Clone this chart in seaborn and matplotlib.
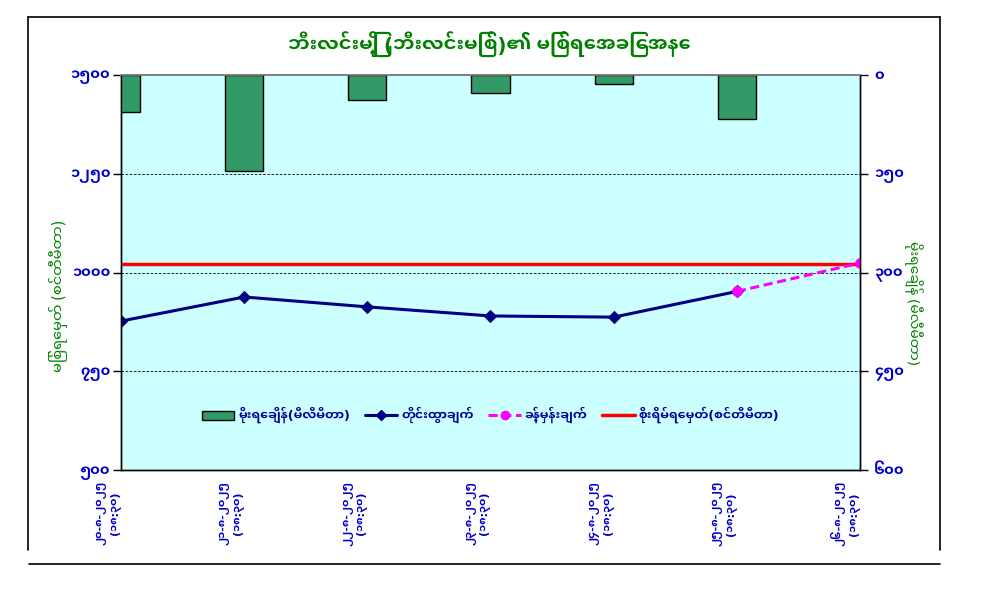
import numpy as np
import matplotlib
matplotlib.use('Agg')
import matplotlib.pyplot as plt
from matplotlib import font_manager
from matplotlib.ft2font import FT2Font
from matplotlib.patches import Patch
from matplotlib.lines import Line2D
import seaborn as sns

# data
dates = ['၂၀-၈-၂၀၂၅', '၂၁-၈-၂၀၂၅', '၂၂-၈-၂၀၂၅', '၂၃-၈-၂၀၂၅',
         '၂၄-၈-၂၀၂၅', '၂၅-၈-၂၀၂၅', '၂၆-၈-၂၀၂၅']
time_label = '(၁၈:၃၀)'
rainfall = [56, 146, 38, 28, 14, 67]          # mm, right axis (inverted)
observed = [877, 938, 913, 890, 887, 952]     # cm, left axis
forecast = 1024                               # cm, last day
danger_level = 1021                           # cm

left_ticks = [500, 750, 1000, 1250, 1500]
right_ticks = [0, 150, 300, 450, 600]

title = 'ဘီးလင်းမြို့ (ဘီးလင်းမြစ်)၏ မြစ်ရေအခြေအနေ'
ylabel_left = 'မြစ်ရေမှတ် (စင်တီမီတာ)'
ylabel_right = 'မိုးရေချိန် (မီလီမီတာ)'
legend_labels = ['မိုးရေချိန်(မီလီမီတာ)', 'တိုင်းထွာချက်', 'ခန့်မှန်းချက်',
                 'စိုးရိမ်ရေမှတ်(စင်တီမီတာ)']


def find_myanmar_font():
    # collect every family that has Myanmar letters and digits
    fams = {}
    for f in font_manager.fontManager.ttflist:
        try:
            ft = FT2Font(f.fname)
            cmap = ft.get_charmap()
        except Exception:
            continue
        if 0x1000 not in cmap or 0x1041 not in cmap:
            continue
        try:
            ft.set_size(10, 72)
            ft.load_char(0x1040)
            adv = ft.get_width_height()[0]
        except Exception:
            adv = 999
        info = fams.setdefault(f.name, {'bold': False, 'adv': adv})
        w = f.weight if isinstance(f.weight, int) else 700 if 'bold' in str(f.weight) else 400
        if w >= 600:
            info['bold'] = True
        info['adv'] = min(info['adv'], adv)
    if not fams:
        return None, False
    name = sorted(fams, key=lambda n: (not fams[n]['bold'], fams[n]['adv']))[0]
    return name, fams[name]['bold']


def mm_digits(n):
    return str(int(n)).translate(str.maketrans('0123456789', '၀၁၂၃၄၅၆၇၈၉'))


sns.set_style('white')
mm_font, has_bold = find_myanmar_font()
families = [mm_font, 'DejaVu Sans'] if mm_font else ['DejaVu Sans']
plt.rcParams['font.family'] = families
wt = 'bold' if has_bold else 'normal'

green = '#008000'
blue = '#0000CC'

fig = plt.figure(figsize=(9.84, 6.05), dpi=100)
ax = fig.add_axes([121 / 984, 1 - 470 / 605, (860 - 121) / 984, (470 - 75) / 605])
ax.set_facecolor('#CCFFFF')
ax2 = ax.twinx()

pos = np.arange(len(dates))

# rainfall bars on the inverted secondary axis
sns.barplot(x=pos[:len(rainfall)], y=rainfall, native_scale=True, width=0.31,
            color='#339966', saturation=1, edgecolor='black', linewidth=1,
            ax=ax2, zorder=2)

# observed water level and forecast
sns.lineplot(x=pos[:len(observed)], y=observed, color='#000080', lw=2.2,
             marker='D', markersize=6, markeredgecolor='#000080', ax=ax, zorder=4)
sns.lineplot(x=pos[len(observed) - 1:], y=[observed[-1], forecast], color='#FF00FF',
             lw=2.2, marker='o', markersize=7, markeredgecolor='#FF00FF', ax=ax, zorder=4)
ax.lines[-1].set_linestyle((0, (3, 1.5)))
ax.axhline(danger_level, color='#FF0000', lw=2.5, zorder=3)

ax.set_xlim(0, len(dates) - 1)
ax.set_ylim(left_ticks[0], left_ticks[-1])
ax2.set_ylim(right_ticks[-1], right_ticks[0])
ax.set_yticks(left_ticks)
ax2.set_yticks(right_ticks)
ax.set_yticklabels([mm_digits(v) for v in left_ticks], color=blue,
                   fontsize=10.5, fontweight=wt)
ax2.set_yticklabels([mm_digits(v) for v in right_ticks], color=blue,
                    fontsize=10.5, fontweight=wt)
ax.set_xticks(pos)
ax.set_xticklabels([d + '\n' + time_label for d in dates], rotation=90,
                   color=blue, fontsize=8, fontweight=wt, va='top', ha='right',
                   multialignment='center', linespacing=1.4)
ax.set_xlabel('')
ax2.set_xlabel('')
ax.set_ylabel('')
ax2.set_ylabel('')

ax.yaxis.grid(True, linestyle=(0, (3, 2)), color='black', lw=0.6)
ax.xaxis.grid(False)
ax2.grid(False)
for a in (ax, ax2):
    a.tick_params(axis='both', direction='out', length=6, width=1, color='black',
                  pad=4)
    for side in ('left', 'right', 'bottom'):
        a.spines[side].set_color('black')
        a.spines[side].set_linewidth(1)
    a.spines['top'].set_color('#808080')
    a.spines['top'].set_linewidth(1.2)
ax.tick_params(axis='y', pad=1.5)
ax.tick_params(axis='x', length=5, pad=3)

handles = [
    Patch(facecolor='#339966', edgecolor='black', lw=1),
    Line2D([], [], color='#000080', lw=2.2, marker='D', markersize=5),
    Line2D([], [], color='#FF00FF', lw=2.2, ls=(0, (3, 1.5)), marker='o', markersize=6),
    Line2D([], [], color='#FF0000', lw=2.5),
]
leg = ax2.legend(handles, legend_labels, loc='center', bbox_to_anchor=(0.5, 0.14),
                 ncol=4, frameon=False, handlelength=2.6, columnspacing=1.2,
                 handletextpad=0.3, prop={'weight': wt, 'size': 9})
for t in leg.get_texts():
    t.set_color('#000099')

fig.text(0.497, 1 - 45 / 605, title, ha='center', va='center', color=green,
         fontsize=14, fontweight=wt)
fig.text(58 / 984, 1 - 296 / 605, ylabel_left, rotation=90, ha='center', va='center',
         color=green, fontsize=10.5)
fig.text(913 / 984, 1 - 303 / 605, ylabel_right, rotation=270, ha='center', va='center',
         color=green, fontsize=10)

# outer chart frame
frame = dict(color='black', lw=1.2, transform=fig.transFigure)
fig.add_artist(Line2D([28 / 984, 940 / 984], [1 - 17 / 605, 1 - 17 / 605], **frame))
fig.add_artist(Line2D([28 / 984, 28 / 984], [1 - 17 / 605, 1 - 550 / 605], **frame))
fig.add_artist(Line2D([940 / 984, 940 / 984], [1 - 17 / 605, 1 - 550 / 605], **frame))
fig.add_artist(Line2D([29 / 984, 940 / 984], [1 - 564 / 605, 1 - 564 / 605], **frame))

fig.savefig('out.png', dpi=100, facecolor='white')
